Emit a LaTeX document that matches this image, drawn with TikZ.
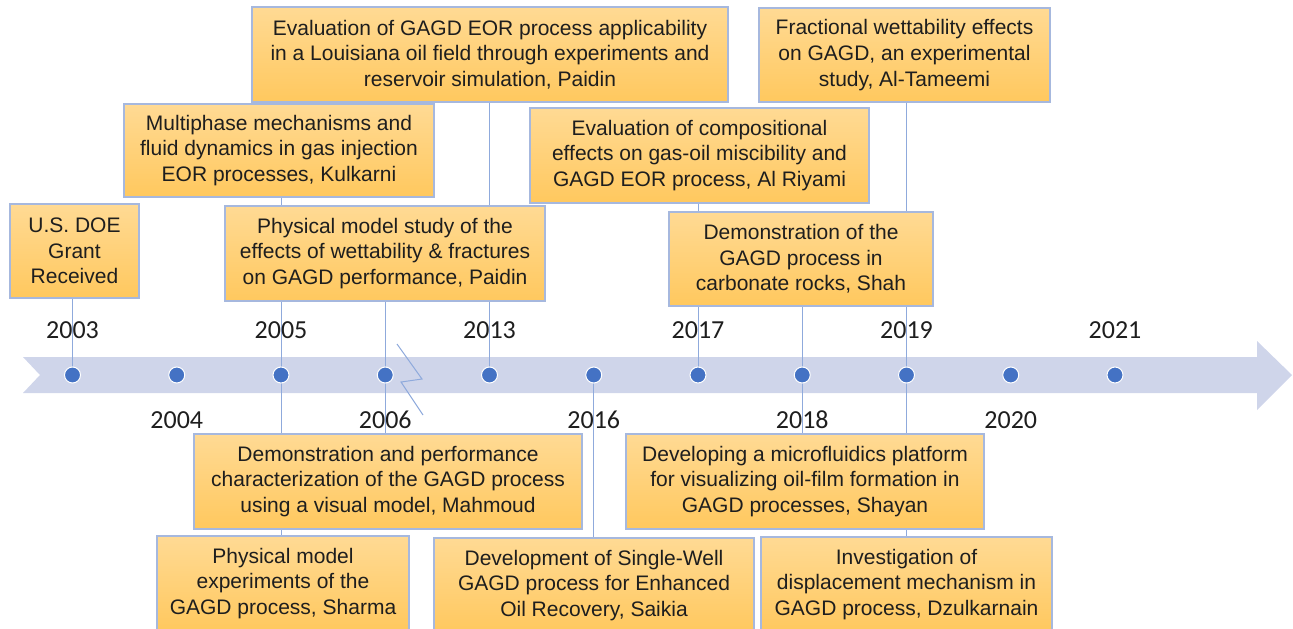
\documentclass[tikz,border=0pt]{standalone}
\usepackage{fontspec}
\setmainfont{Liberation Sans}
\newfontfamily\yrfont{Carlito}
\usetikzlibrary{backgrounds}
\definecolor{bandcol}{HTML}{CFD5EA}
\definecolor{dotcol}{HTML}{4472C4}
\definecolor{stemcol}{HTML}{8FAADC}
\definecolor{boxtop}{HTML}{FFDA94}
\definecolor{boxbot}{HTML}{FFC85E}
\definecolor{boxline}{HTML}{A6B8DE}
\definecolor{inkcol}{HTML}{1E1E1E}
\begin{document}
\begin{tikzpicture}[x=1pt, y=-1pt,
    dot/.style={circle, fill=dotcol, draw=white, line width=1pt, inner sep=0pt, minimum size=16pt},
    yr/.style={font=\yrfont\fontsize{26}{30}\selectfont, text=inkcol, inner sep=0pt},
    evbox/.style={draw=boxline, line width=1.2pt, top color=boxtop, bottom color=boxbot,
      align=center, text=inkcol, font=\fontsize{21}{25.7}\selectfont, minimum height=95pt, inner sep=0pt},
    stem/.style={draw=stemcol, line width=1pt}]
    \useasboundingbox (0,0) rectangle (1293,629);
    \foreach \yr [count=\i from 0] in {2003,2004,2005,2006,2013,2016,2017,2018,2019,2020,2021} {
        \pgfmathsetmacro\ly{mod(\i,2)==0 ? 330 : 420}
        \node[dot] (d\yr) at (72.5+104.25*\i,375) {};
        \node[yr] (y\yr) at (72.5+104.25*\i,\ly) {\yr};
    }
    % events above the line
    \node[evbox, minimum width=129pt, minimum height=94pt] (doe) at (74.5,251) {U.S. DOE\\Grant\\Received};
    \node[evbox, minimum width=310pt, minimum height=93pt] (kulkarni) at (279,150.5) {Multiphase mechanisms and\\fluid dynamics in gas injection\\EOR processes, Kulkarni};
    \node[evbox, minimum width=476pt] (paidinA) at (490,54.5) {Evaluation of GAGD EOR process applicability\\in a Louisiana oil field through experiments and\\reservoir simulation, Paidin};
    \node[evbox, minimum width=320pt] (paidinB) at (385,253.5) {Physical model study of the\\effects of wettability \& fractures\\on GAGD performance, Paidin};
    \node[evbox, minimum width=339pt] (riyami) at (699.5,155.5) {Evaluation of compositional\\effects on gas-oil miscibility and\\GAGD EOR process, Al Riyami};
    \node[evbox, minimum width=291pt, minimum height=94pt] (tameemi) at (904.5,55) {Fractional wettability effects\\on GAGD, an experimental\\study, Al-Tameemi};
    \node[evbox, minimum width=264pt, minimum height=94pt] (shah) at (801,259) {Demonstration of the\\GAGD process in\\carbonate rocks, Shah};
    % events below the line
    \node[evbox, minimum width=388pt] (mahmoud) at (388,481.5) {Demonstration and performance\\characterization of the GAGD process\\using a visual model, Mahmoud};
    \node[evbox, minimum width=252pt] (sharma) at (283,583.5) {Physical model\\experiments of the\\GAGD process, Sharma};
    \node[evbox, minimum width=320pt] (saikia) at (594,585.5) {Development of Single-Well\\GAGD process for Enhanced\\Oil Recovery, Saikia};
    \node[evbox, minimum width=358pt] (shayan) at (805,481.5) {Developing a microfluidics platform\\for visualizing oil-film formation in\\GAGD processes, Shayan};
    \node[evbox, minimum width=291pt] (dzulkarnain) at (906.5,584.5) {Investigation of\\displacement mechanism in\\GAGD process, Dzulkarnain};
    \begin{scope}[on background layer]
        \fill[bandcol] (23,357) -- (1257,357) -- (1257,341) -- (1292,375) -- (1257,410)
            -- (1257,393) -- (23,393) -- (40,375) -- cycle;
        \draw[stem] (397,344) -- (422,379) -- (401,382) -- (423,415);
        \draw[stem] (d2003.center) -- (doe.south -| d2003);
        \draw[stem] (d2005.center) -- (kulkarni.south -| d2005);
        \draw[stem] (d2005.center) -- (sharma.north -| d2005);
        \draw[stem] (d2006.center) -- (paidinB.south -| d2006);
        \draw[stem] (d2006.center) -- (mahmoud.north -| d2006);
        \draw[stem] (d2013.center) -- (paidinA.south -| d2013);
        \draw[stem] (d2016.center) -- (saikia.north -| d2016);
        \draw[stem] (d2017.center) -- (riyami.south -| d2017);
        \draw[stem] (d2018.center) -- (shah.south -| d2018);
        \draw[stem] (d2018.center) -- (shayan.north -| d2018);
        \draw[stem] (d2019.center) -- (tameemi.south -| d2019);
        \draw[stem] (d2019.center) -- (dzulkarnain.north -| d2019);
    \end{scope}
\end{tikzpicture}
\end{document}
